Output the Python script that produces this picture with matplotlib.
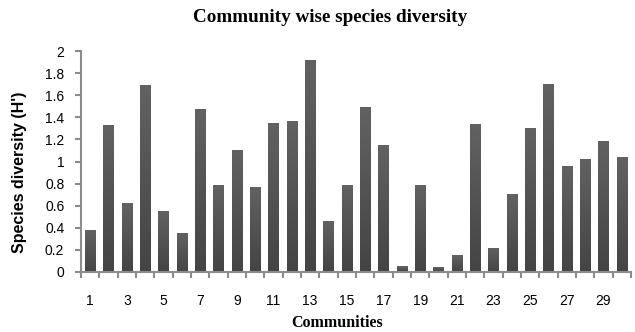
"""Bar chart of Shannon species diversity (H') per community."""

import matplotlib.pyplot as plt
import numpy as np
from matplotlib.colors import LinearSegmentedColormap

communities = list(range(1, 31))
diversity = [
    0.38, 1.33, 0.62, 1.69, 0.55, 0.35, 1.48, 0.79, 1.10, 0.77,
    1.35, 1.37, 1.92, 0.46, 0.79, 1.49, 1.15, 0.05, 0.79, 0.04,
    0.15, 1.34, 0.22, 0.71, 1.30, 1.70, 0.96, 1.02, 1.19, 1.04,
]
tick_labels = [str(c) if c % 2 == 1 else "" for c in communities]

axis_grey = "#8c8c8c"

fig = plt.figure(figsize=(6.35, 3.32), dpi=100)
ax = fig.add_axes([0.1276, 0.181, 0.866, 0.665])

bars = ax.bar(communities, diversity, width=0.56, color="#505050", linewidth=0)

# Vertical shading on each bar: lighter at the top, darker at the base
shade = LinearSegmentedColormap.from_list("shade", ["#444444", "#626262"])
grad = np.linspace(0, 1, 256).reshape(-1, 1)
for bar in bars:
    x0, y0 = bar.get_x(), bar.get_y()
    w, h = bar.get_width(), bar.get_height()
    im = ax.imshow(grad, cmap=shade, origin="lower", aspect="auto",
                   extent=[x0, x0 + w, y0, y0 + h], zorder=2)
    im.set_clip_path(bar)

ax.set_xlim(0.5, 30.5)
ax.set_ylim(0, 2)

# Category ticks sit between bars, labels under odd communities
ax.set_xticks(np.arange(0.5, 31, 1), minor=False)
ax.set_xticklabels([])
ax.set_xticks(communities, minor=True)
ax.set_xticklabels(tick_labels, minor=True)
ax.tick_params(axis="x", which="major", direction="out", length=4, width=1.5,
               color=axis_grey)
ax.tick_params(axis="x", which="minor", length=0, pad=16, labelsize=10)

ax.set_yticks(np.arange(0, 2.01, 0.2))
ax.set_yticklabels(["0", "0.2", "0.4", "0.6", "0.8", "1", "1.2", "1.4", "1.6", "1.8", "2"])
ax.tick_params(axis="y", direction="out", length=4, width=1.5, color=axis_grey,
               labelsize=10, pad=8)

for label in ax.get_xticklabels(minor=True) + ax.get_yticklabels():
    label.set_fontfamily("Liberation Sans")

for side in ("top", "right"):
    ax.spines[side].set_visible(False)
for side in ("left", "bottom"):
    ax.spines[side].set_color(axis_grey)
    ax.spines[side].set_linewidth(1.5)

ax.set_ylabel("Species diversity (H')", fontfamily="Liberation Sans",
              fontweight="bold", fontsize=11.5, va="center")
ax.yaxis.set_label_coords(-0.112, 0.45)
ax.set_xlabel("Communities", fontfamily="Liberation Serif", fontweight="bold",
              fontsize=11.5, va="center")
ax.xaxis.set_label_coords(0.465, -0.232)
fig.text(0.52, 0.947, "Community wise species diversity", fontfamily="Liberation Serif",
         fontweight="bold", fontsize=13.8, ha="center", va="center")

fig.savefig("out.png", dpi=100)
